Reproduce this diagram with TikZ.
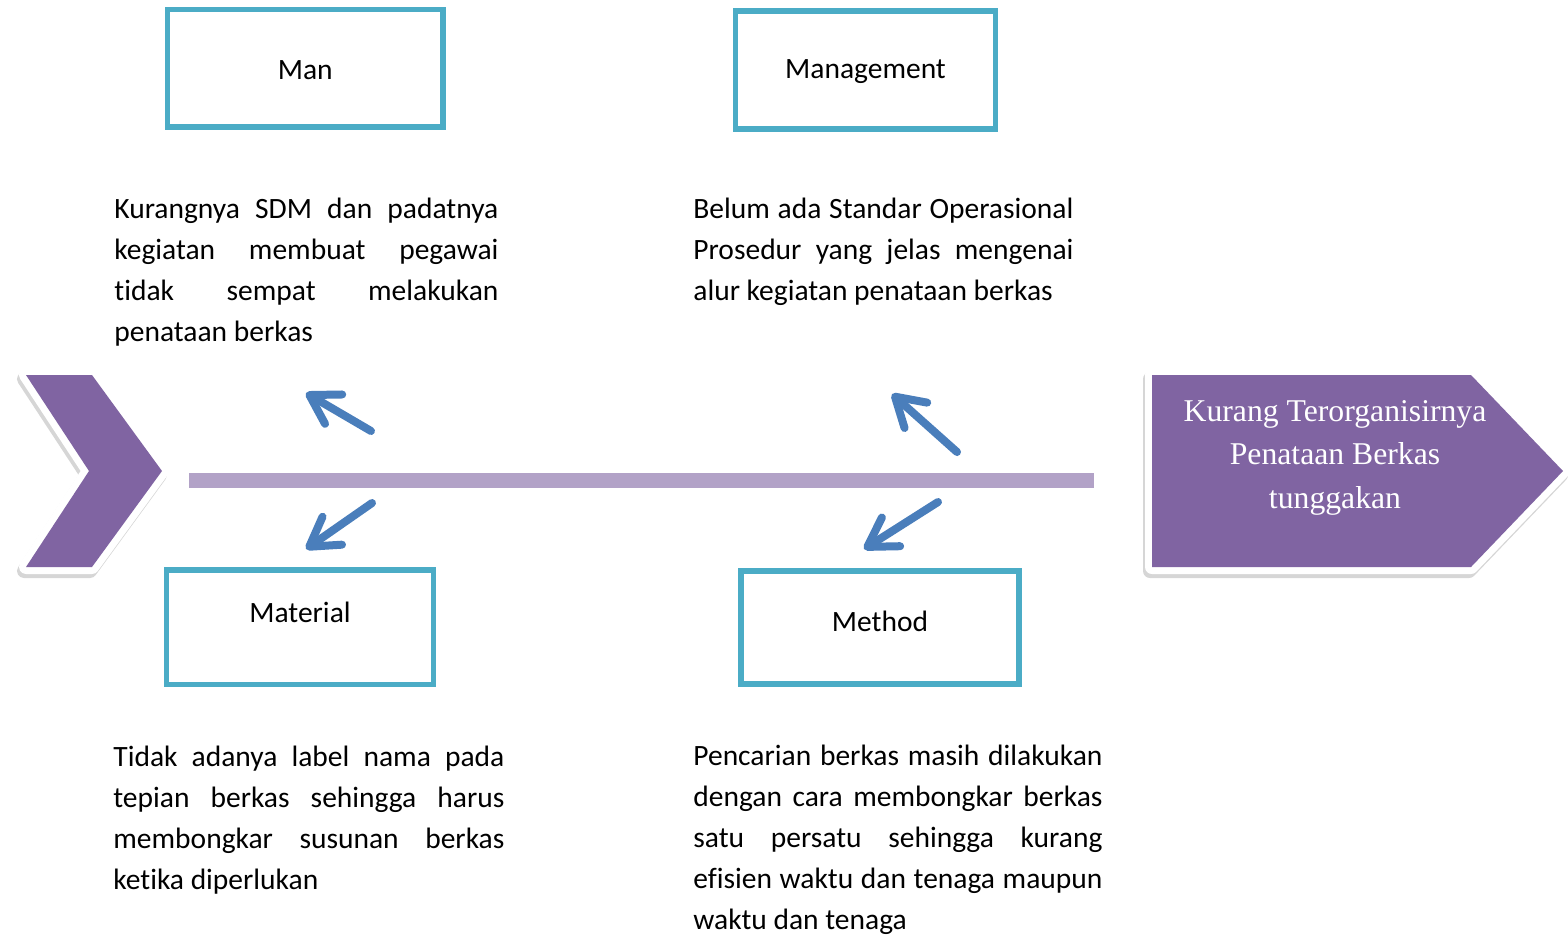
\documentclass[tikz,border=0pt]{standalone}
\usepackage{fontspec}
\setmainfont{Carlito}[Ligatures=CommonOff]
\newfontfamily\effectfont{Liberation Serif}
\usetikzlibrary{arrows.meta}
\definecolor{fishpurple}{HTML}{8064A2}
\definecolor{bonelilac}{HTML}{B2A2C7}
\definecolor{boxaqua}{HTML}{4BACC6}
\definecolor{arrowblue}{HTML}{4A7EBB}
\newcommand\loosespaces{\spaceskip=0.226em plus 10em minus 0.08em\relax\hyphenpenalty=10000\relax}

\begin{document}
\begin{tikzpicture}[x=0.5pt,y=-0.5pt,
	shadowlayer/.style={fill=black!16, draw=black!16, line width=7pt, line join=round, shift={(-2,4)}},
	rimlayer/.style={fill=white, draw=white, line width=7pt, line join=round},
	bodylayer/.style={fill=fishpurple},
	bone/.style={bonelilac, line width=7.5pt},
	causebox/.style={draw=boxaqua, line width=2.6pt, inner sep=0pt, font=\fontsize{14.75}{20.5}\selectfont, text height=11pt, text depth=0.25pt},
	causetext/.style={anchor=base west, inner sep=0pt, align=justify, font=\fontsize{14.75}{20.5}\selectfont, execute at begin node=\loosespaces},
	causearrow/.style={arrowblue, line width=4pt, line cap=round, -{Straight Barb[length=14pt, width=17pt, round]}},
	effectlabel/.style={anchor=base, align=center, text=white, inner sep=0pt, font=\effectfont\fontsize{15.85}{21.75}\selectfont}]
	\useasboundingbox (0,0) rectangle (1568,934);

	\foreach \layer in {shadowlayer,rimlayer,bodylayer}
		\path[\layer] (26,375) -- (92,375) -- (162,471) -- (92,567) -- (26,567) -- (89,471) -- cycle;
	\foreach \layer in {shadowlayer,rimlayer,bodylayer}
		\path[\layer] (1152,375) -- (1471,375) -- (1563,471) -- (1471,567) -- (1152,567) -- cycle;
	\node[effectlabel] (effect) at (1335,508) {Kurang Terorganisirnya\\Penataan Berkas\\tunggakan};

	\coordinate (boneL) at (189,480);
	\coordinate (boneR) at (1094,480);
	\draw[bone] (boneL) -- (boneR);

	\node[causebox, minimum width=137.75pt, minimum height=58.75pt] (man) at (305.25,68.25) {Man};
	\node[causebox, minimum width=130pt, minimum height=59pt, text depth=2.7pt] (management) at (865.5,70) {Management};
	\node[causebox, minimum width=133.2pt, minimum height=57.25pt, text depth=16.2pt] (material) at (300,627.2) {Material};
	\node[causebox, minimum width=139pt, minimum height=56.5pt, text depth=6.8pt] (method) at (880,627.5) {Method};

	\node[causetext, text width=192pt] (mantext) at (114,218) {Kurangnya SDM dan padatnya\linebreak kegiatan membuat pegawai\linebreak tidak sempat melakukan\linebreak penataan berkas};
	\node[causetext, text width=190pt] (managementtext) at (693,218) {Belum ada Standar Operasional\linebreak Prosedur yang jelas mengenai\linebreak alur kegiatan penataan berkas};
	\node[causetext, text width=195.5pt] (materialtext) at (113,766) {Tidak adanya label nama pada\linebreak tepian berkas sehingga harus\linebreak membongkar susunan berkas\linebreak ketika diperlukan};
	\node[causetext, text width=204.5pt] (methodtext) at (693,765) {Pencarian berkas masih dilakukan\linebreak dengan cara membongkar berkas\linebreak satu persatu sehingga kurang\linebreak efisien waktu dan tenaga maupun\linebreak waktu dan tenaga};

	\coordinate (manfrom) at (371,431);
	\coordinate (manto) at (306,393);
	\coordinate (managementfrom) at (957,452);
	\coordinate (managementto) at (892,394);
	\coordinate (materialfrom) at (372,503);
	\coordinate (materialto) at (306,549);
	\coordinate (methodfrom) at (938,502);
	\coordinate (methodto) at (864,549);
	\foreach \a in {man,management,material,method}
		\draw[causearrow] (\a from) -- (\a to);
\end{tikzpicture}
\end{document}
